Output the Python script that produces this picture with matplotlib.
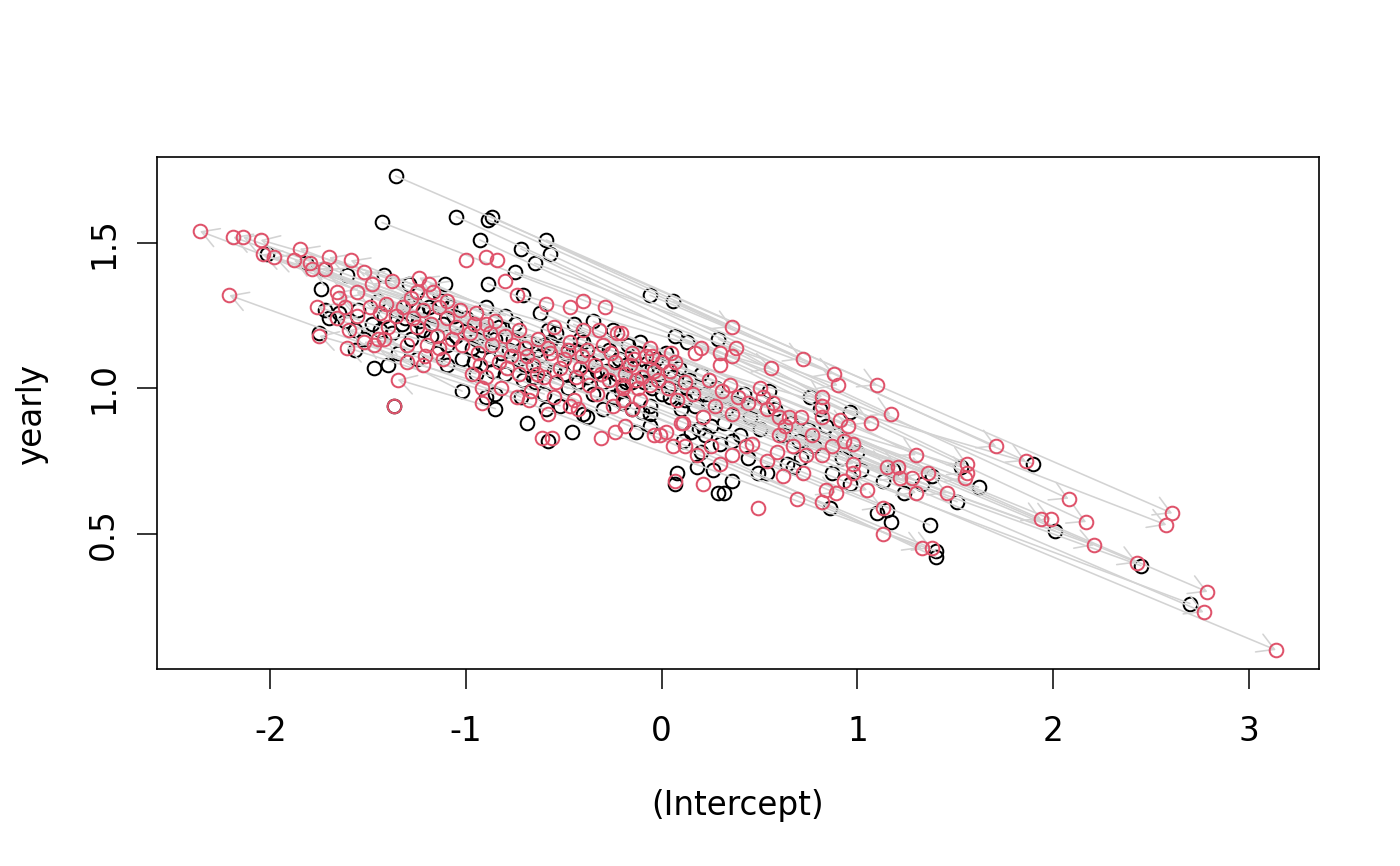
import matplotlib
matplotlib.use("Agg")
import matplotlib.pyplot as plt
from matplotlib.patches import FancyArrowPatch, ArrowStyle

# ---------------- data ----------------
# Group A: upper-left black points -> lower-right red points
A_bx = [-1.36, -1.43, -1.05, -0.89, -0.87, -0.93, -0.59, -0.57, -0.72, -0.65, -0.75, -0.89, -0.71, -0.06, 0.06, 0.07]
A_by = [1.73, 1.57, 1.59, 1.58, 1.59, 1.51, 1.51, 1.46, 1.48, 1.43, 1.40, 1.36, 1.32, 1.32, 1.30, 1.18]
A_rx = [2.61, 2.58, 2.08, 1.71, 1.86, 2.17, 1.10, 1.17, 1.56, 0.88, 0.90, 2.79, 0.56, 0.72, 0.36, 1.30]
A_ry = [0.57, 0.53, 0.62, 0.80, 0.75, 0.54, 1.01, 0.91, 0.74, 1.05, 1.01, 0.30, 1.07, 1.10, 1.21, 0.77]

# Group B: cloud black points -> far right red points
B_bx = [-0.60, -0.32, -0.62, -1.00, -0.45, -0.35, -0.25, -0.42, -0.58, -0.80, -0.65]
B_by = [1.15, 1.12, 1.26, 1.24, 1.22, 1.23, 1.20, 1.17, 1.20, 1.05, 1.02]
B_rx = [3.14, 2.77, 2.43, 2.21, 1.99, 1.94, 1.56, 1.55, 1.46, 1.33, 1.38]
B_ry = [0.10, 0.23, 0.40, 0.46, 0.55, 0.55, 0.71, 0.69, 0.64, 0.45, 0.45]

# Group C: right black points -> far left red points
C_bx = [2.70, 2.45, 2.01, 1.90, 1.62, 1.51, 1.53, 1.38, 1.37, 1.40, 1.40]
C_by = [0.26, 0.39, 0.51, 0.74, 0.66, 0.61, 0.73, 0.70, 0.53, 0.44, 0.42]
C_rx = [-2.36, -2.19, -2.14, -2.05, -2.04, -1.85, -1.98, -1.70, -1.88, -2.21, -1.80]
C_ry = [1.54, 1.52, 1.52, 1.51, 1.46, 1.48, 1.45, 1.45, 1.44, 1.32, 1.43]

# Group D: cloud black points -> left red points
D_bx = [-0.48, -0.70, -0.75, -0.85, -0.68, -0.80, -0.90, -0.22, -0.62, -0.38, -0.52, -0.55,
        -0.10, -0.28, -0.72, -1.12, -0.60, -0.52, -0.85, -1.02, -0.95, -1.10, -0.85, -1.37]
D_by = [1.00, 1.08, 1.22, 1.17, 1.16, 1.25, 1.28, 1.10, 1.11, 1.04, 1.14, 1.06,
        0.92, 1.06, 0.97, 1.22, 0.98, 0.94, 0.98, 0.99, 1.05, 1.08, 0.93, 0.94]
D_rx = [-1.79, -1.72, -1.59, -1.52, -1.48, -1.38, -1.24, -1.19, -1.56, -1.66, -1.14, -1.65,
        -1.76, -1.49, -1.66, -1.41, -1.60, -1.75, -1.61, -1.52, -1.47, -1.42, -1.35, -1.37]
D_ry = [1.41, 1.41, 1.44, 1.40, 1.36, 1.37, 1.38, 1.36, 1.33, 1.33, 1.28, 1.31,
        1.28, 1.28, 1.24, 1.29, 1.20, 1.18, 1.14, 1.16, 1.15, 1.17, 1.03, 0.94]

# Group E: centre black points -> right-middle red points
E_bx = [0.13, 0.29, -0.11, -0.18, -0.05, 0.06, 0.14, 0.13, 0.04, -0.15, -0.06, -0.06, 0.24, 0.17]
E_by = [1.16, 1.17, 1.16, 1.08, 1.07, 1.04, 1.03, 1.00, 0.97, 0.93, 0.94, 0.91, 0.95, 0.94]
E_rx = [1.07, 0.82, 0.95, 0.93, 1.15, 1.21, 1.28, 1.22, 1.30, 1.13, 1.05, 0.89, 1.36, 0.98]
E_ry = [0.88, 0.97, 0.87, 0.82, 0.73, 0.73, 0.69, 0.69, 0.64, 0.59, 0.65, 0.64, 0.71, 0.74]

# Remaining black points (their arrows are hidden in the cloud)
F_bx = [-1.30, -1.25, -1.20, -1.17, -1.22, -1.28, -1.08, -1.05, -0.97, -1.15, -1.25, -1.35, -0.92, -0.88, -0.78,
        -0.45, -0.35, -0.25, -0.18, -0.08, -0.40, -0.30, -0.20, -1.42, -1.38, -0.12, -0.02, 0.02, -0.15,
        -2.02, -1.82, -1.73, -1.61, -1.74, -1.72, -1.70, -1.65, -1.75, -1.57, -1.52, -1.57, -1.44, -1.47,
        -1.40, -1.42, -1.29, -1.11, -1.27,
        -0.69, -0.58, -0.46, -0.13, 0.08, -0.90, -0.59, -0.38,
        0.76, 0.81, 0.96, 0.89, 1.00, 0.55, 0.71, 0.67, 0.87, 0.96, 0.86, 1.10, 0.07, 0.29, 0.32, 0.36,
        0.26, 0.18, 0.20, 0.11, 0.15, 0.22, 0.30, 0.36, 0.44, 0.49, 0.54, 0.64, -0.06, 0.19, 0.25,
        1.18, 1.13, 1.24, 1.33, 1.15, 1.17,
        -1.33, -1.18, -1.10, -1.02, -0.95, -0.83, -0.73, -0.66, -0.57, -0.50, -0.44, -0.37, -0.30, -0.23,
        -0.14, -0.05, 0.00, 0.10, 0.20, 0.28, 0.38, 0.45, 0.50, 0.62, 0.70, 0.78, 0.92, 1.02, 0.40, 0.32]
F_by = [1.30, 1.27, 1.31, 1.25, 1.20, 1.17, 1.28, 1.18, 1.14, 1.12, 1.10, 1.12, 1.20, 1.10, 1.13,
        1.08, 0.98, 0.97, 1.02, 1.06, 0.91, 0.93, 0.95, 1.25, 1.19, 1.12, 1.05, 1.12, 1.02,
        1.46, 1.43, 1.41, 1.39, 1.34, 1.27, 1.24, 1.26, 1.19, 1.20, 1.17, 1.13, 1.20, 1.07,
        1.08, 1.39, 1.36, 1.36, 1.29,
        0.88, 0.82, 0.85, 0.85, 0.71, 0.97, 0.93, 0.90,
        0.97, 0.93, 0.92, 0.84, 0.78, 0.99, 0.76, 0.73, 0.71, 0.67, 0.59, 0.57, 0.67, 0.64, 0.64, 0.68,
        0.72, 0.73, 0.78, 0.82, 0.85, 0.84, 0.81, 0.82, 0.76, 0.71, 0.71, 0.74, 0.87, 0.86, 0.87,
        0.72, 0.68, 0.64, 0.67, 0.58, 0.54,
        1.22, 1.18, 1.15, 1.10, 1.17, 1.21, 1.10, 1.04, 1.16, 1.05, 1.13, 1.09, 1.02, 1.05,
        1.07, 1.00, 0.98, 0.93, 1.05, 1.00, 0.95, 0.90, 0.86, 0.84, 0.82, 0.80, 0.76, 0.72, 0.84, 0.88]

# More black points in the dense part of the cloud
H_bx = [-1.45, -1.36, -1.31, -1.24, -1.19, -1.13, -1.06, -1.00, -0.96, -0.92, -0.86, -0.82, -0.76, -0.71,
        -0.64, -0.60, -0.54, -0.49, -0.43, -0.40, -0.33, -0.27, -0.21, -0.17, -0.09, -0.03, 0.05, 0.09,
        0.12, 0.22, 0.33, 0.42, 0.47, 0.58, 0.66, 0.75, 0.84, -1.48, -1.55, -1.62]
H_by = [1.30, 1.27, 1.24, 1.23, 1.28, 1.30, 1.25, 1.20, 1.09, 1.15, 1.06, 1.12, 1.17, 1.03,
        1.13, 1.07, 1.19, 1.12, 1.02, 1.16, 1.06, 1.13, 0.99, 1.15, 1.02, 1.10, 1.01, 1.07,
        0.96, 0.98, 0.93, 0.98, 0.94, 0.93, 0.88, 0.86, 0.87, 1.22, 1.27, 1.23]

# Remaining red points
G_rx = [-1.32, -1.27, -1.22, -1.18, -1.25, -1.30, -1.20, -1.15, -1.10, -1.05, -1.02, -0.98, -1.12, -1.22, -1.30,
        -0.94, -0.90, -0.87, -0.83, -0.80, -0.77, -0.73, -0.70, -0.66, -0.63, -0.60, -0.57, -0.54, -0.50, -0.47,
        -0.44, -0.41, -0.37, -0.34, -0.30, -0.27, -0.24, -0.20, -0.16, -0.12, -0.08, -0.04, -0.97, -0.90, -0.82,
        -0.67, -0.55, -0.45, -0.33, -0.25, -0.15, -0.95, -0.85, -0.73, -0.55, -0.40, -0.32, -1.40, -1.45, -1.10,
        -1.17, -1.25,
        -1.00, -0.90, -0.84, -0.80, -0.74, -0.59, -0.47, -0.40, -0.29, -0.23,
        -0.92, -0.61, -0.56, -0.31, -0.24, -0.19, 0.02, 0.06, 0.07, -0.68, -0.92, -0.74, -0.58, -0.43, -0.47,
        0.38, 0.20, 0.17, 0.30, 0.36, 0.30, 0.82, 0.82, 0.91, 0.98, 0.87, 0.50, 0.52, 0.54, 0.60, 0.65, 0.71,
        0.60, 0.59, 0.67, 0.74, 0.82, 0.72, 0.98, 0.93, 0.84, 0.82, 0.69, 0.49, 1.13, 0.21, 0.30, 0.18, 0.43,
        0.46, 0.62, -0.01, 0.11, 0.21, 0.36, 0.39, 0.31, 0.27, -0.21, -0.15, -0.06, -0.05, 0.05, 0.07, 0.00,
        -0.13, -0.20, -0.06, 0.03, 0.08, -0.11, -0.20, 0.10, -0.04]
G_ry = [1.28, 1.24, 1.27, 1.22, 1.21, 1.15, 1.15, 1.18, 1.24, 1.21, 1.15, 1.19, 1.10, 1.08, 1.09,
        1.12, 1.22, 1.15, 1.09, 1.18, 1.11, 1.05, 1.14, 1.08, 1.17, 1.04, 1.12, 1.02, 1.10, 1.16,
        1.04, 1.11, 1.01, 1.08, 1.15, 1.03, 1.09, 1.00, 1.08, 1.00, 1.11, 1.06, 1.05, 1.04, 1.00,
        0.99, 0.97, 0.96, 0.98, 0.94, 0.93, 1.26, 1.23, 1.20, 1.21, 1.20, 1.20, 1.21, 1.17, 1.30,
        1.33, 1.33,
        1.44, 1.45, 1.44, 1.37, 1.32, 1.29, 1.28, 1.30, 1.28, 1.19,
        0.95, 0.83, 0.83, 0.83, 0.85, 0.87, 0.85, 0.80, 0.68, 0.96, 1.00, 0.97, 0.91, 0.93, 0.94,
        1.14, 1.14, 1.12, 1.12, 1.11, 1.08, 0.94, 0.90, 0.89, 0.81, 0.80, 1.00, 0.97, 0.93, 0.90, 0.90, 0.90,
        0.84, 0.78, 0.80, 0.77, 0.77, 0.71, 0.71, 0.68, 0.65, 0.61, 0.62, 0.59, 0.50, 0.67, 0.74, 0.77, 0.80,
        0.81, 0.70, 0.84, 0.88, 0.90, 0.91, 0.97, 0.99, 0.94, 1.19, 1.12, 1.14, 1.11, 1.12, 1.09, 1.09,
        1.03, 1.01, 1.01, 1.00, 0.96, 0.96, 0.96, 0.88, 0.84]

# More red points in the dense part of the cloud
I_rx = [-1.36, -1.28, -1.21, -1.14, -1.07, -1.03, -0.96, -0.93, -0.88, -0.79, -0.76, -0.69, -0.64, -0.58,
        -0.52, -0.48, -0.42, -0.38, -0.31, -0.26, -0.19, -0.14, -0.10, -0.02, 0.04, 0.12, 0.16, 0.24,
        0.35, 0.44, 0.57, 0.63, 0.77, 0.12, 0.25, 0.36, 0.54, -1.56, -1.44, -1.62]
I_ry = [1.25, 1.31, 1.11, 1.14, 1.17, 1.27, 1.22, 1.08, 1.19, 1.07, 1.15, 1.11, 1.05, 1.14,
        1.07, 1.13, 1.07, 1.13, 1.05, 1.12, 1.05, 1.10, 1.04, 1.03, 1.06, 1.02, 0.98, 1.03,
        1.01, 0.95, 0.95, 0.87, 0.84, 0.80, 0.80, 0.77, 0.75, 1.25, 1.26, 1.28]

x_ticks = [-2, -1, 0, 1, 2, 3]
y_ticks = [0.5, 1.0, 1.5]
y_tick_labels = ["0.5", "1.0", "1.5"]
x_label = "(Intercept)"
y_label = "yearly"

# ---------------- assemble ----------------
pair_bx = A_bx + B_bx + C_bx + D_bx + E_bx
pair_by = A_by + B_by + C_by + D_by + E_by
pair_rx = A_rx + B_rx + C_rx + D_rx + E_rx
pair_ry = A_ry + B_ry + C_ry + D_ry + E_ry

black_x = pair_bx + F_bx + H_bx
black_y = pair_by + F_by + H_by
red_x = pair_rx + G_rx + I_rx
red_y = pair_ry + G_ry + I_ry

RED = "#DF536B"
GREY = "#D3D3D3"
FS = 23.5

fig = plt.figure(figsize=(14, 8.66), dpi=100)
ax = fig.add_axes([157 / 1400, 1 - 669 / 866, 1162 / 1400, 512 / 866])

# R-style limits (4% extension of the data range)
all_x = black_x + red_x
all_y = black_y + red_y
xr = max(all_x) - min(all_x)
yr = max(all_y) - min(all_y)
ax.set_xlim(min(all_x) - 0.04 * xr, max(all_x) + 0.04 * xr)
ax.set_ylim(min(all_y) - 0.04 * yr, max(all_y) + 0.04 * yr)

ax.plot(black_x, black_y, linestyle="none", marker="o", mfc="none", mec="black",
        ms=9.8, mew=1.45, zorder=2)

style = ArrowStyle("->", head_length=1.19, head_width=0.69)
for x0, y0, x1, y1 in zip(pair_bx, pair_by, pair_rx, pair_ry):
    if abs(x1 - x0) < 1e-6 and abs(y1 - y0) < 1e-6:
        continue  # zero-length arrow is skipped (as R does)
    arr = FancyArrowPatch((x0, y0), (x1, y1), arrowstyle=style, mutation_scale=10,
                          shrinkA=0, shrinkB=0, color=GREY, lw=1.15, zorder=3)
    ax.add_patch(arr)

ax.plot(red_x, red_y, linestyle="none", marker="o", mfc="none", mec=RED,
        ms=9.8, mew=1.45, zorder=4)

ax.set_xticks(x_ticks)
ax.set_xticklabels([str(t) for t in x_ticks], fontsize=FS)
ax.set_yticks(y_ticks)
ax.set_yticklabels(y_tick_labels, fontsize=FS, rotation=90, va="center")
ax.tick_params(axis="x", length=14.4, width=1.1, pad=18.5, direction="out")
ax.tick_params(axis="y", length=14.4, width=1.1, pad=12, direction="out")
for s in ax.spines.values():
    s.set_linewidth(1.2)
    s.set_color("black")

ax.set_xlabel(x_label, fontsize=FS, va="center")
ax.xaxis.set_label_coords(0.5, (669 - 805) / 512)
ax.set_ylabel(y_label, fontsize=FS, va="center", ha="center")
ax.yaxis.set_label_coords((31 - 157) / 1162, 0.5)

fig.savefig("out.png", dpi=100)
